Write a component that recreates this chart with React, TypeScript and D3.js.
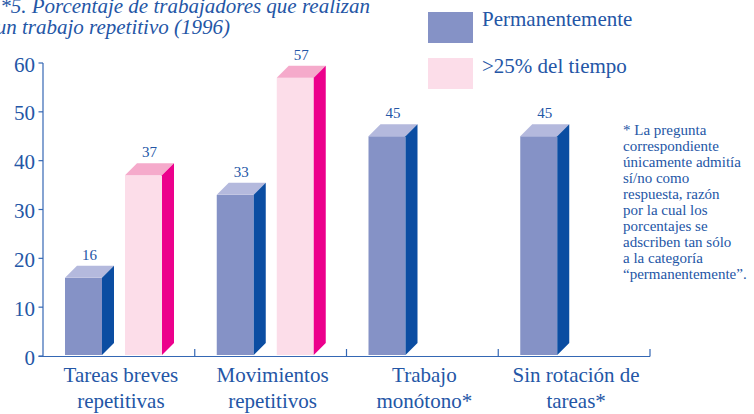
import React, { useEffect } from "react";
import * as d3 from "d3";

const categories = ["Tareas breves|repetitivas", "Movimientos|repetitivos", "Trabajo|monótono*", "Sin rotación de|tareas*"];
const permanentemente: (number | null)[] = [16, 33, 45, 45];
const masDel25: (number | null)[] = [37, 57, null, null];
const yTicks = [0, 10, 20, 30, 40, 50, 60];
const seriesNames = ["Permanentemente", ">25% del tiempo"];
const titleLines = ["*5. Porcentaje de trabajadores que realizan", "un trabajo repetitivo (1996)"];
const footnote = [
  "* La pregunta",
  "correspondiente",
  "únicamente admitía",
  "sí/no como",
  "respuesta, razón",
  "por la cual los",
  "porcentajes se",
  "adscriben tan sólo",
  "a la categoría",
  "“permanentemente”.",
];

const W = 754, H = 414;
const TEXT = "#2456a6";
const AXIS = "#3467b4";
const FONT = "Liberation Serif, DejaVu Serif, serif";
const palettes = [
  { front: "#8592c6", top: "#b4b9dd", side: "#0b4da2" },
  { front: "#fcdde9", top: "#f5aacb", side: "#ec008c" },
];

export default function App() {
  useEffect(() => {
    document.body.style.margin = "0";
  }, []);

  const x = d3.scaleBand<string>().domain(categories).range([43, 650]).paddingInner(0).paddingOuter(0);
  const y = d3.scaleLinear().domain([0, 60]).range([356, 63]);
  const barW = 37, depth = 12, firstOff = 22, pairStep = 60;

  const bars: React.ReactNode[] = [];
  [permanentemente, masDel25].forEach((series, si) => {
    series.forEach((v, ci) => {
      if (v == null) return;
      const x0 = (x(categories[ci]) as number) + firstOff + si * pairStep;
      const x1 = x0 + barW;
      const yT = y(v);
      const yB = y(0) - 1;
      const p = palettes[si];
      bars.push(
        <g key={`b${si}-${ci}`}>
          <rect x={x0} y={yT} width={barW} height={yB - yT} fill={p.front} />
          <polygon points={`${x0},${yT} ${x0 + depth},${yT - depth} ${x1 + depth},${yT - depth} ${x1},${yT}`} fill={p.top} />
          <polygon points={`${x1},${yT} ${x1 + depth},${yT - depth} ${x1 + depth},${yB - depth} ${x1},${yB}`} fill={p.side} />
          <text x={x0 + (barW + depth) / 2} y={yT - 18} textAnchor="middle" fontSize={15} fill={TEXT}>{v}</text>
        </g>
      );
    });
  });

  const xTickPos = [...categories.map((c) => x(c) as number), 650];

  return (
    <svg width={W} height={H} style={{ display: "block", background: "#fff", fontFamily: FONT }}>
      {/* title */}
      {titleLines.map((t, i) => (
        <text key={t} x={i === 0 ? 370 : 230} y={i === 0 ? 12.5 : 33.5} textAnchor="end" fontSize={21} fontStyle="italic" fill={TEXT}>{t}</text>
      ))}
      {/* legend */}
      {seriesNames.map((s, i) => (
        <g key={s}>
          <rect x={428} y={12 + i * 46} width={45} height={31} fill={palettes[i].front} />
          <text x={482} y={25.5 + i * 47} fontSize={21} fill={TEXT}>{s}</text>
        </g>
      ))}
      {/* y axis */}
      <line x1={43} x2={43} y1={y(60)} y2={y(0)} stroke={AXIS} strokeWidth={1.2} />
      {yTicks.map((t) => (
        <g key={t}>
          <line x1={38.5} x2={43} y1={y(t)} y2={y(t)} stroke={AXIS} strokeWidth={1.2} />
          <text x={35} y={y(t) + 8.5} textAnchor="end" fontSize={21} fill={TEXT}>{t}</text>
        </g>
      ))}
      {/* x axis */}
      <line x1={38.5} x2={650} y1={y(0) + 0.5} y2={y(0) + 0.5} stroke={AXIS} strokeWidth={1.2} />
      {xTickPos.slice(1).map((px, i) => (
        <line key={i} x1={px} x2={px} y1={y(0) + 0.5} y2={y(0) - 7} stroke={AXIS} strokeWidth={1.2} />
      ))}
      {bars}
      {/* category labels */}
      {categories.map((c) => {
        const cx = (x(c) as number) + x.bandwidth() / 2 + 2;
        return c.split("|").map((line, li) => (
          <text key={c + li} x={cx} y={382 + li * 25.5} textAnchor="middle" fontSize={21} fill={TEXT}>{line}</text>
        ));
      })}
      {/* footnote */}
      {footnote.map((l, i) => (
        <text key={i} x={623} y={134.5 + i * 16} fontSize={15} fill={TEXT}>{l}</text>
      ))}
    </svg>
  );
}
